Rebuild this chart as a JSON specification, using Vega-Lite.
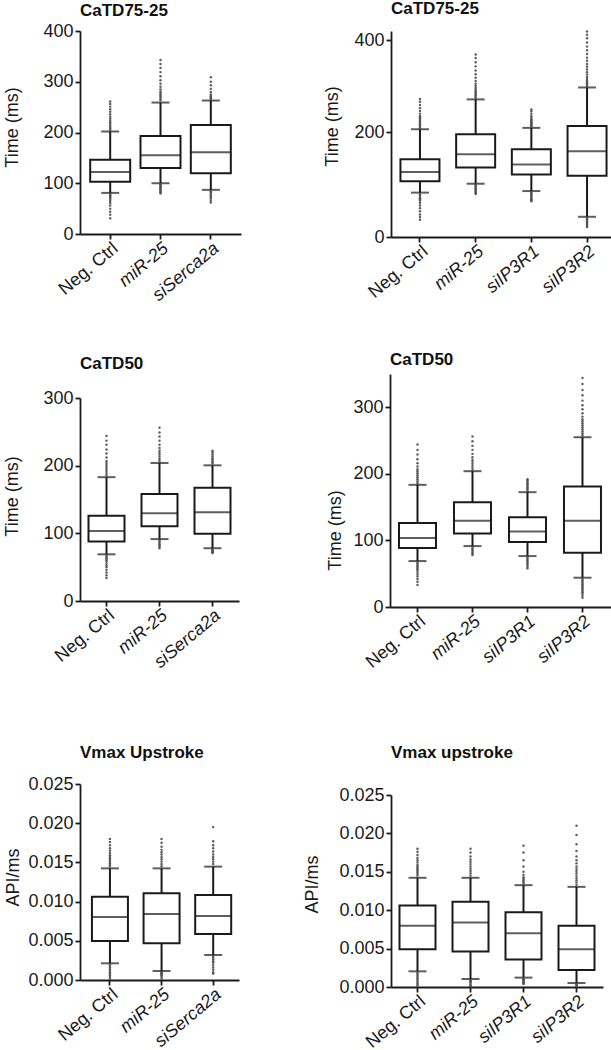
{
  "$schema": "https://vega.github.io/schema/vega-lite/v6.json",
  "padding": {"left": 3, "top": 0, "right": 0, "bottom": 0},
  "background": "#ffffff",
  "config": {
    "view": {"stroke": null},
    "title": {"font": "Liberation Sans", "fontSize": 17, "fontWeight": "bold", "anchor": "start", "color": "#111111", "frame": "group"},
    "axis": {"domainColor": "#1a1a1a", "domainWidth": 1.8, "tickColor": "#1a1a1a", "tickWidth": 1.8, "tickSize": 5, "labelFont": "Liberation Sans", "labelFontSize": 18, "labelColor": "#1a1a1a", "titleFont": "Liberation Sans", "titleFontSize": 18, "titleFontWeight": "normal", "titleColor": "#1a1a1a", "grid": false, "labelPadding": 2, "labelOverlap": false},
    "axisX": {"labelAngle": -40, "labelPadding": 0}
  },
  "datasets": {
    "tl_s": [
      {"g": "Neg. Ctrl", "lo": 81, "q1": 103, "med": 122, "q3": 146.5, "hi": 202},
      {"g": "miR-25", "lo": 100, "q1": 130, "med": 155, "q3": 193, "hi": 259},
      {"g": "siSerca2a", "lo": 87, "q1": 119.5, "med": 161, "q3": 215, "hi": 263}
    ],
    "tl_o": [
      {"g": "Neg. Ctrl", "v": 205}, {"g": "Neg. Ctrl", "v": 208}, {"g": "Neg. Ctrl", "v": 211}, {"g": "Neg. Ctrl", "v": 214}, {"g": "Neg. Ctrl", "v": 217}, {"g": "Neg. Ctrl", "v": 220}, {"g": "Neg. Ctrl", "v": 223}, {"g": "Neg. Ctrl", "v": 227}, {"g": "Neg. Ctrl", "v": 231}, {"g": "Neg. Ctrl", "v": 236}, {"g": "Neg. Ctrl", "v": 241}, {"g": "Neg. Ctrl", "v": 246}, {"g": "Neg. Ctrl", "v": 251}, {"g": "Neg. Ctrl", "v": 256}, {"g": "Neg. Ctrl", "v": 261},
      {"g": "Neg. Ctrl", "v": 79}, {"g": "Neg. Ctrl", "v": 77}, {"g": "Neg. Ctrl", "v": 75}, {"g": "Neg. Ctrl", "v": 73}, {"g": "Neg. Ctrl", "v": 71}, {"g": "Neg. Ctrl", "v": 68}, {"g": "Neg. Ctrl", "v": 65}, {"g": "Neg. Ctrl", "v": 61}, {"g": "Neg. Ctrl", "v": 56}, {"g": "Neg. Ctrl", "v": 50}, {"g": "Neg. Ctrl", "v": 44}, {"g": "Neg. Ctrl", "v": 38}, {"g": "Neg. Ctrl", "v": 31},
      {"g": "miR-25", "v": 263}, {"g": "miR-25", "v": 266}, {"g": "miR-25", "v": 269}, {"g": "miR-25", "v": 272}, {"g": "miR-25", "v": 275}, {"g": "miR-25", "v": 278}, {"g": "miR-25", "v": 281}, {"g": "miR-25", "v": 285}, {"g": "miR-25", "v": 290}, {"g": "miR-25", "v": 296}, {"g": "miR-25", "v": 303}, {"g": "miR-25", "v": 311}, {"g": "miR-25", "v": 319}, {"g": "miR-25", "v": 327}, {"g": "miR-25", "v": 335}, {"g": "miR-25", "v": 343},
      {"g": "miR-25", "v": 98}, {"g": "miR-25", "v": 96}, {"g": "miR-25", "v": 94}, {"g": "miR-25", "v": 92}, {"g": "miR-25", "v": 90}, {"g": "miR-25", "v": 88}, {"g": "miR-25", "v": 86}, {"g": "miR-25", "v": 84}, {"g": "miR-25", "v": 82}, {"g": "miR-25", "v": 80},
      {"g": "siSerca2a", "v": 266}, {"g": "siSerca2a", "v": 268}, {"g": "siSerca2a", "v": 270}, {"g": "siSerca2a", "v": 272}, {"g": "siSerca2a", "v": 275}, {"g": "siSerca2a", "v": 280}, {"g": "siSerca2a", "v": 286}, {"g": "siSerca2a", "v": 293}, {"g": "siSerca2a", "v": 300}, {"g": "siSerca2a", "v": 309},
      {"g": "siSerca2a", "v": 84}, {"g": "siSerca2a", "v": 82}, {"g": "siSerca2a", "v": 79}, {"g": "siSerca2a", "v": 76}, {"g": "siSerca2a", "v": 73}, {"g": "siSerca2a", "v": 70}, {"g": "siSerca2a", "v": 66}, {"g": "siSerca2a", "v": 62}
    ],
    "tr_s": [
      {"g": "Neg. Ctrl", "lo": 84.5, "q1": 106, "med": 124, "q3": 148, "hi": 206},
      {"g": "miR-25", "lo": 101.5, "q1": 132.5, "med": 157.5, "q3": 195.5, "hi": 271},
      {"g": "siIP3R1", "lo": 87.5, "q1": 119, "med": 138, "q3": 167, "hi": 209},
      {"g": "siIP3R2", "lo": 38.5, "q1": 116.5, "med": 163.5, "q3": 213, "hi": 297}
    ],
    "tr_o": [
      {"g": "Neg. Ctrl", "v": 208}, {"g": "Neg. Ctrl", "v": 211}, {"g": "Neg. Ctrl", "v": 214}, {"g": "Neg. Ctrl", "v": 217}, {"g": "Neg. Ctrl", "v": 220}, {"g": "Neg. Ctrl", "v": 223}, {"g": "Neg. Ctrl", "v": 226}, {"g": "Neg. Ctrl", "v": 229}, {"g": "Neg. Ctrl", "v": 232}, {"g": "Neg. Ctrl", "v": 235}, {"g": "Neg. Ctrl", "v": 240}, {"g": "Neg. Ctrl", "v": 246}, {"g": "Neg. Ctrl", "v": 252}, {"g": "Neg. Ctrl", "v": 259}, {"g": "Neg. Ctrl", "v": 266}, {"g": "Neg. Ctrl", "v": 272},
      {"g": "Neg. Ctrl", "v": 82}, {"g": "Neg. Ctrl", "v": 80}, {"g": "Neg. Ctrl", "v": 78}, {"g": "Neg. Ctrl", "v": 76}, {"g": "Neg. Ctrl", "v": 74}, {"g": "Neg. Ctrl", "v": 72}, {"g": "Neg. Ctrl", "v": 69}, {"g": "Neg. Ctrl", "v": 65}, {"g": "Neg. Ctrl", "v": 60}, {"g": "Neg. Ctrl", "v": 55}, {"g": "Neg. Ctrl", "v": 49}, {"g": "Neg. Ctrl", "v": 43}, {"g": "Neg. Ctrl", "v": 38}, {"g": "Neg. Ctrl", "v": 33},
      {"g": "miR-25", "v": 274}, {"g": "miR-25", "v": 277}, {"g": "miR-25", "v": 280}, {"g": "miR-25", "v": 283}, {"g": "miR-25", "v": 286}, {"g": "miR-25", "v": 289}, {"g": "miR-25", "v": 292}, {"g": "miR-25", "v": 296}, {"g": "miR-25", "v": 300}, {"g": "miR-25", "v": 305}, {"g": "miR-25", "v": 311}, {"g": "miR-25", "v": 318}, {"g": "miR-25", "v": 326}, {"g": "miR-25", "v": 334}, {"g": "miR-25", "v": 343}, {"g": "miR-25", "v": 352}, {"g": "miR-25", "v": 361}, {"g": "miR-25", "v": 369},
      {"g": "miR-25", "v": 100}, {"g": "miR-25", "v": 98}, {"g": "miR-25", "v": 96}, {"g": "miR-25", "v": 94}, {"g": "miR-25", "v": 92}, {"g": "miR-25", "v": 90}, {"g": "miR-25", "v": 88}, {"g": "miR-25", "v": 86}, {"g": "miR-25", "v": 84}, {"g": "miR-25", "v": 82},
      {"g": "siIP3R1", "v": 211}, {"g": "siIP3R1", "v": 213}, {"g": "siIP3R1", "v": 215}, {"g": "siIP3R1", "v": 217}, {"g": "siIP3R1", "v": 219}, {"g": "siIP3R1", "v": 221}, {"g": "siIP3R1", "v": 223}, {"g": "siIP3R1", "v": 225}, {"g": "siIP3R1", "v": 228}, {"g": "siIP3R1", "v": 231}, {"g": "siIP3R1", "v": 235}, {"g": "siIP3R1", "v": 240}, {"g": "siIP3R1", "v": 245}, {"g": "siIP3R1", "v": 249},
      {"g": "siIP3R1", "v": 86}, {"g": "siIP3R1", "v": 84}, {"g": "siIP3R1", "v": 82}, {"g": "siIP3R1", "v": 80}, {"g": "siIP3R1", "v": 78}, {"g": "siIP3R1", "v": 76}, {"g": "siIP3R1", "v": 74}, {"g": "siIP3R1", "v": 72}, {"g": "siIP3R1", "v": 70}, {"g": "siIP3R1", "v": 68},
      {"g": "siIP3R2", "v": 300}, {"g": "siIP3R2", "v": 303}, {"g": "siIP3R2", "v": 306}, {"g": "siIP3R2", "v": 309}, {"g": "siIP3R2", "v": 312}, {"g": "siIP3R2", "v": 316}, {"g": "siIP3R2", "v": 320}, {"g": "siIP3R2", "v": 325}, {"g": "siIP3R2", "v": 330}, {"g": "siIP3R2", "v": 336}, {"g": "siIP3R2", "v": 342}, {"g": "siIP3R2", "v": 348}, {"g": "siIP3R2", "v": 355}, {"g": "siIP3R2", "v": 362}, {"g": "siIP3R2", "v": 370}, {"g": "siIP3R2", "v": 378}, {"g": "siIP3R2", "v": 386}, {"g": "siIP3R2", "v": 395}, {"g": "siIP3R2", "v": 404}, {"g": "siIP3R2", "v": 412}, {"g": "siIP3R2", "v": 419},
      {"g": "siIP3R2", "v": 37}, {"g": "siIP3R2", "v": 35}, {"g": "siIP3R2", "v": 33}, {"g": "siIP3R2", "v": 31}, {"g": "siIP3R2", "v": 29}, {"g": "siIP3R2", "v": 27}, {"g": "siIP3R2", "v": 25}, {"g": "siIP3R2", "v": 23}, {"g": "siIP3R2", "v": 21}, {"g": "siIP3R2", "v": 19}
    ],
    "ml_s": [
      {"g": "Neg. Ctrl", "lo": 69, "q1": 88, "med": 103.5, "q3": 126, "hi": 183},
      {"g": "miR-25", "lo": 91.5, "q1": 110.5, "med": 129.5, "q3": 158, "hi": 204},
      {"g": "siSerca2a", "lo": 78, "q1": 99.5, "med": 131, "q3": 167.5, "hi": 200.5}
    ],
    "ml_o": [
      {"g": "Neg. Ctrl", "v": 186}, {"g": "Neg. Ctrl", "v": 189}, {"g": "Neg. Ctrl", "v": 192}, {"g": "Neg. Ctrl", "v": 195}, {"g": "Neg. Ctrl", "v": 198}, {"g": "Neg. Ctrl", "v": 201}, {"g": "Neg. Ctrl", "v": 204}, {"g": "Neg. Ctrl", "v": 207}, {"g": "Neg. Ctrl", "v": 212}, {"g": "Neg. Ctrl", "v": 218}, {"g": "Neg. Ctrl", "v": 224}, {"g": "Neg. Ctrl", "v": 231}, {"g": "Neg. Ctrl", "v": 237}, {"g": "Neg. Ctrl", "v": 244},
      {"g": "Neg. Ctrl", "v": 67}, {"g": "Neg. Ctrl", "v": 65}, {"g": "Neg. Ctrl", "v": 63}, {"g": "Neg. Ctrl", "v": 61}, {"g": "Neg. Ctrl", "v": 59}, {"g": "Neg. Ctrl", "v": 56}, {"g": "Neg. Ctrl", "v": 53}, {"g": "Neg. Ctrl", "v": 50}, {"g": "Neg. Ctrl", "v": 46}, {"g": "Neg. Ctrl", "v": 42}, {"g": "Neg. Ctrl", "v": 38}, {"g": "Neg. Ctrl", "v": 34},
      {"g": "miR-25", "v": 207}, {"g": "miR-25", "v": 210}, {"g": "miR-25", "v": 213}, {"g": "miR-25", "v": 216}, {"g": "miR-25", "v": 219}, {"g": "miR-25", "v": 222}, {"g": "miR-25", "v": 226}, {"g": "miR-25", "v": 231}, {"g": "miR-25", "v": 237}, {"g": "miR-25", "v": 243}, {"g": "miR-25", "v": 249}, {"g": "miR-25", "v": 256},
      {"g": "miR-25", "v": 90}, {"g": "miR-25", "v": 88}, {"g": "miR-25", "v": 86}, {"g": "miR-25", "v": 84}, {"g": "miR-25", "v": 82}, {"g": "miR-25", "v": 80}, {"g": "miR-25", "v": 78},
      {"g": "siSerca2a", "v": 203}, {"g": "siSerca2a", "v": 205}, {"g": "siSerca2a", "v": 207}, {"g": "siSerca2a", "v": 209}, {"g": "siSerca2a", "v": 211}, {"g": "siSerca2a", "v": 214}, {"g": "siSerca2a", "v": 217}, {"g": "siSerca2a", "v": 220}, {"g": "siSerca2a", "v": 222},
      {"g": "siSerca2a", "v": 76}, {"g": "siSerca2a", "v": 75}, {"g": "siSerca2a", "v": 74}, {"g": "siSerca2a", "v": 73}, {"g": "siSerca2a", "v": 72}, {"g": "siSerca2a", "v": 71}
    ],
    "mr_s": [
      {"g": "Neg. Ctrl", "lo": 69, "q1": 88.5, "med": 103.5, "q3": 126, "hi": 183.5},
      {"g": "miR-25", "lo": 91.5, "q1": 110.5, "med": 129.5, "q3": 157.5, "hi": 204},
      {"g": "siIP3R1", "lo": 76.5, "q1": 97.5, "med": 113.5, "q3": 135, "hi": 172.5},
      {"g": "siIP3R2", "lo": 44, "q1": 81.5, "med": 129.5, "q3": 181, "hi": 255}
    ],
    "mr_o": [
      {"g": "Neg. Ctrl", "v": 186}, {"g": "Neg. Ctrl", "v": 189}, {"g": "Neg. Ctrl", "v": 192}, {"g": "Neg. Ctrl", "v": 195}, {"g": "Neg. Ctrl", "v": 198}, {"g": "Neg. Ctrl", "v": 201}, {"g": "Neg. Ctrl", "v": 204}, {"g": "Neg. Ctrl", "v": 207}, {"g": "Neg. Ctrl", "v": 211}, {"g": "Neg. Ctrl", "v": 216}, {"g": "Neg. Ctrl", "v": 222}, {"g": "Neg. Ctrl", "v": 229}, {"g": "Neg. Ctrl", "v": 236}, {"g": "Neg. Ctrl", "v": 244},
      {"g": "Neg. Ctrl", "v": 67}, {"g": "Neg. Ctrl", "v": 65}, {"g": "Neg. Ctrl", "v": 63}, {"g": "Neg. Ctrl", "v": 61}, {"g": "Neg. Ctrl", "v": 59}, {"g": "Neg. Ctrl", "v": 57}, {"g": "Neg. Ctrl", "v": 55}, {"g": "Neg. Ctrl", "v": 52}, {"g": "Neg. Ctrl", "v": 49}, {"g": "Neg. Ctrl", "v": 46}, {"g": "Neg. Ctrl", "v": 42}, {"g": "Neg. Ctrl", "v": 38}, {"g": "Neg. Ctrl", "v": 33},
      {"g": "miR-25", "v": 206}, {"g": "miR-25", "v": 209}, {"g": "miR-25", "v": 212}, {"g": "miR-25", "v": 215}, {"g": "miR-25", "v": 218}, {"g": "miR-25", "v": 221}, {"g": "miR-25", "v": 225}, {"g": "miR-25", "v": 230}, {"g": "miR-25", "v": 236}, {"g": "miR-25", "v": 242}, {"g": "miR-25", "v": 249}, {"g": "miR-25", "v": 256},
      {"g": "miR-25", "v": 90}, {"g": "miR-25", "v": 88}, {"g": "miR-25", "v": 86}, {"g": "miR-25", "v": 84}, {"g": "miR-25", "v": 82}, {"g": "miR-25", "v": 80}, {"g": "miR-25", "v": 78},
      {"g": "siIP3R1", "v": 174}, {"g": "siIP3R1", "v": 176}, {"g": "siIP3R1", "v": 178}, {"g": "siIP3R1", "v": 180}, {"g": "siIP3R1", "v": 182}, {"g": "siIP3R1", "v": 184}, {"g": "siIP3R1", "v": 186}, {"g": "siIP3R1", "v": 188}, {"g": "siIP3R1", "v": 190}, {"g": "siIP3R1", "v": 192},
      {"g": "siIP3R1", "v": 75}, {"g": "siIP3R1", "v": 73}, {"g": "siIP3R1", "v": 71}, {"g": "siIP3R1", "v": 69}, {"g": "siIP3R1", "v": 67}, {"g": "siIP3R1", "v": 65}, {"g": "siIP3R1", "v": 63}, {"g": "siIP3R1", "v": 60}, {"g": "siIP3R1", "v": 58},
      {"g": "siIP3R2", "v": 258}, {"g": "siIP3R2", "v": 261}, {"g": "siIP3R2", "v": 264}, {"g": "siIP3R2", "v": 267}, {"g": "siIP3R2", "v": 270}, {"g": "siIP3R2", "v": 273}, {"g": "siIP3R2", "v": 276}, {"g": "siIP3R2", "v": 279}, {"g": "siIP3R2", "v": 282}, {"g": "siIP3R2", "v": 286}, {"g": "siIP3R2", "v": 291}, {"g": "siIP3R2", "v": 297}, {"g": "siIP3R2", "v": 303}, {"g": "siIP3R2", "v": 310}, {"g": "siIP3R2", "v": 318}, {"g": "siIP3R2", "v": 326}, {"g": "siIP3R2", "v": 335}, {"g": "siIP3R2", "v": 344},
      {"g": "siIP3R2", "v": 42}, {"g": "siIP3R2", "v": 40}, {"g": "siIP3R2", "v": 38}, {"g": "siIP3R2", "v": 36}, {"g": "siIP3R2", "v": 34}, {"g": "siIP3R2", "v": 32}, {"g": "siIP3R2", "v": 30}, {"g": "siIP3R2", "v": 28}, {"g": "siIP3R2", "v": 26}, {"g": "siIP3R2", "v": 24}, {"g": "siIP3R2", "v": 22}, {"g": "siIP3R2", "v": 20}, {"g": "siIP3R2", "v": 17}, {"g": "siIP3R2", "v": 14}
    ],
    "bl_s": [
      {"g": "Neg. Ctrl", "lo": 0.00213, "q1": 0.00497, "med": 0.00804, "q3": 0.01063, "hi": 0.01424},
      {"g": "miR-25", "lo": 0.00115, "q1": 0.00468, "med": 0.00842, "q3": 0.01105, "hi": 0.01424},
      {"g": "siSerca2a", "lo": 0.00319, "q1": 0.00587, "med": 0.00816, "q3": 0.01084, "hi": 0.01446}
    ],
    "bl_o": [
      {"g": "Neg. Ctrl", "v": 0.0145}, {"g": "Neg. Ctrl", "v": 0.0147}, {"g": "Neg. Ctrl", "v": 0.0149}, {"g": "Neg. Ctrl", "v": 0.0151}, {"g": "Neg. Ctrl", "v": 0.0153}, {"g": "Neg. Ctrl", "v": 0.0155}, {"g": "Neg. Ctrl", "v": 0.0157}, {"g": "Neg. Ctrl", "v": 0.0159}, {"g": "Neg. Ctrl", "v": 0.0162}, {"g": "Neg. Ctrl", "v": 0.0165}, {"g": "Neg. Ctrl", "v": 0.0168}, {"g": "Neg. Ctrl", "v": 0.0172}, {"g": "Neg. Ctrl", "v": 0.0176}, {"g": "Neg. Ctrl", "v": 0.018},
      {"g": "Neg. Ctrl", "v": 0.002}, {"g": "Neg. Ctrl", "v": 0.0018}, {"g": "Neg. Ctrl", "v": 0.0016}, {"g": "Neg. Ctrl", "v": 0.0014}, {"g": "Neg. Ctrl", "v": 0.0012}, {"g": "Neg. Ctrl", "v": 0.001}, {"g": "Neg. Ctrl", "v": 0.0008}, {"g": "Neg. Ctrl", "v": 0.0006}, {"g": "Neg. Ctrl", "v": 0.0004}, {"g": "Neg. Ctrl", "v": 0.0002},
      {"g": "miR-25", "v": 0.0145}, {"g": "miR-25", "v": 0.0148}, {"g": "miR-25", "v": 0.0151}, {"g": "miR-25", "v": 0.0154}, {"g": "miR-25", "v": 0.0157}, {"g": "miR-25", "v": 0.016}, {"g": "miR-25", "v": 0.0163}, {"g": "miR-25", "v": 0.0166}, {"g": "miR-25", "v": 0.017}, {"g": "miR-25", "v": 0.0175}, {"g": "miR-25", "v": 0.018},
      {"g": "miR-25", "v": 0.001}, {"g": "miR-25", "v": 0.0009}, {"g": "miR-25", "v": 0.0008}, {"g": "miR-25", "v": 0.0007}, {"g": "miR-25", "v": 0.0006}, {"g": "miR-25", "v": 0.0004}, {"g": "miR-25", "v": 0.0002},
      {"g": "siSerca2a", "v": 0.0148}, {"g": "siSerca2a", "v": 0.0151}, {"g": "siSerca2a", "v": 0.0154}, {"g": "siSerca2a", "v": 0.0157}, {"g": "siSerca2a", "v": 0.016}, {"g": "siSerca2a", "v": 0.0164}, {"g": "siSerca2a", "v": 0.0168}, {"g": "siSerca2a", "v": 0.0172}, {"g": "siSerca2a", "v": 0.0177}, {"g": "siSerca2a", "v": 0.0195},
      {"g": "siSerca2a", "v": 0.003}, {"g": "siSerca2a", "v": 0.0028}, {"g": "siSerca2a", "v": 0.0026}, {"g": "siSerca2a", "v": 0.0024}, {"g": "siSerca2a", "v": 0.0022}, {"g": "siSerca2a", "v": 0.0019}, {"g": "siSerca2a", "v": 0.0016}, {"g": "siSerca2a", "v": 0.0013}, {"g": "siSerca2a", "v": 0.001}, {"g": "siSerca2a", "v": 0.0008}
    ],
    "br_s": [
      {"g": "Neg. Ctrl", "lo": 0.00204, "q1": 0.00491, "med": 0.00796, "q3": 0.01061, "hi": 0.01422},
      {"g": "miR-25", "lo": 0.00104, "q1": 0.00461, "med": 0.00839, "q3": 0.01109, "hi": 0.01422},
      {"g": "siIP3R1", "lo": 0.00122, "q1": 0.00357, "med": 0.007, "q3": 0.00974, "hi": 0.01326},
      {"g": "siIP3R2", "lo": 0.00052, "q1": 0.00222, "med": 0.00491, "q3": 0.00796, "hi": 0.01304}
    ],
    "br_o": [
      {"g": "Neg. Ctrl", "v": 0.0145}, {"g": "Neg. Ctrl", "v": 0.0147}, {"g": "Neg. Ctrl", "v": 0.0149}, {"g": "Neg. Ctrl", "v": 0.0151}, {"g": "Neg. Ctrl", "v": 0.0153}, {"g": "Neg. Ctrl", "v": 0.0155}, {"g": "Neg. Ctrl", "v": 0.0157}, {"g": "Neg. Ctrl", "v": 0.0159}, {"g": "Neg. Ctrl", "v": 0.0162}, {"g": "Neg. Ctrl", "v": 0.0165}, {"g": "Neg. Ctrl", "v": 0.0168}, {"g": "Neg. Ctrl", "v": 0.0172}, {"g": "Neg. Ctrl", "v": 0.0176}, {"g": "Neg. Ctrl", "v": 0.018},
      {"g": "Neg. Ctrl", "v": 0.0019}, {"g": "Neg. Ctrl", "v": 0.0017}, {"g": "Neg. Ctrl", "v": 0.0015}, {"g": "Neg. Ctrl", "v": 0.0013}, {"g": "Neg. Ctrl", "v": 0.0011}, {"g": "Neg. Ctrl", "v": 0.0009}, {"g": "Neg. Ctrl", "v": 0.0007}, {"g": "Neg. Ctrl", "v": 0.0005}, {"g": "Neg. Ctrl", "v": 0.0003}, {"g": "Neg. Ctrl", "v": 0.0001},
      {"g": "miR-25", "v": 0.0145}, {"g": "miR-25", "v": 0.0148}, {"g": "miR-25", "v": 0.0151}, {"g": "miR-25", "v": 0.0154}, {"g": "miR-25", "v": 0.0157}, {"g": "miR-25", "v": 0.016}, {"g": "miR-25", "v": 0.0163}, {"g": "miR-25", "v": 0.0166}, {"g": "miR-25", "v": 0.017}, {"g": "miR-25", "v": 0.0175}, {"g": "miR-25", "v": 0.018},
      {"g": "miR-25", "v": 0.0009}, {"g": "miR-25", "v": 0.0008}, {"g": "miR-25", "v": 0.0007}, {"g": "miR-25", "v": 0.0006}, {"g": "miR-25", "v": 0.0004}, {"g": "miR-25", "v": 0.0002}, {"g": "miR-25", "v": 0.0001},
      {"g": "siIP3R1", "v": 0.0135}, {"g": "siIP3R1", "v": 0.0137}, {"g": "siIP3R1", "v": 0.0139}, {"g": "siIP3R1", "v": 0.0141}, {"g": "siIP3R1", "v": 0.0143}, {"g": "siIP3R1", "v": 0.0146}, {"g": "siIP3R1", "v": 0.015}, {"g": "siIP3R1", "v": 0.0157}, {"g": "siIP3R1", "v": 0.0165}, {"g": "siIP3R1", "v": 0.0175}, {"g": "siIP3R1", "v": 0.0184},
      {"g": "siIP3R1", "v": 0.0011}, {"g": "siIP3R1", "v": 0.001}, {"g": "siIP3R1", "v": 0.0009}, {"g": "siIP3R1", "v": 0.0008}, {"g": "siIP3R1", "v": 0.0007}, {"g": "siIP3R1", "v": 0.0006}, {"g": "siIP3R1", "v": 0.0005}, {"g": "siIP3R1", "v": 0.0004},
      {"g": "siIP3R2", "v": 0.0133}, {"g": "siIP3R2", "v": 0.0136}, {"g": "siIP3R2", "v": 0.0139}, {"g": "siIP3R2", "v": 0.0142}, {"g": "siIP3R2", "v": 0.0145}, {"g": "siIP3R2", "v": 0.0148}, {"g": "siIP3R2", "v": 0.0151}, {"g": "siIP3R2", "v": 0.0154}, {"g": "siIP3R2", "v": 0.0157}, {"g": "siIP3R2", "v": 0.0161}, {"g": "siIP3R2", "v": 0.0165}, {"g": "siIP3R2", "v": 0.017}, {"g": "siIP3R2", "v": 0.0177}, {"g": "siIP3R2", "v": 0.0186}, {"g": "siIP3R2", "v": 0.0198}, {"g": "siIP3R2", "v": 0.021},
      {"g": "siIP3R2", "v": 0.0004}, {"g": "siIP3R2", "v": 0.0003}, {"g": "siIP3R2", "v": 0.0002}, {"g": "siIP3R2", "v": 0.0001}
    ]
  },
  "vconcat": [
    {
      "vconcat": [
        {
          "hconcat": [
            {
              "width": 161, "height": 203,
              "title": {"text": "CaTD75-25", "offset": 2},
              "encoding": {"x": {"field": "g", "type": "nominal", "title": null, "scale": {"type": "band", "domain": ["Neg. Ctrl", "miR-25", "siSerca2a"], "paddingInner": 0, "paddingOuter": 0.1}, "axis": {"labelFontStyle": {"condition": {"test": "datum.value == 'Neg. Ctrl'", "value": "normal"}, "value": "italic"}}}},
              "layer": [
                {"data": {"name": "tl_s"}, "mark": {"type": "rule", "strokeWidth": 2, "color": "#1a1a1a"}, "encoding": {"y": {"field": "lo", "type": "quantitative", "title": "Time (ms)", "scale": {"domain": [0, 400], "nice": false, "zero": false}, "axis": {"values": [0, 100, 200, 300, 400], "tickCount": 20, "titleX": -59, "titleY": 96, "labelOverlap": false}}, "y2": {"field": "hi"}}},
                {"data": {"name": "tl_s"}, "mark": {"type": "bar", "size": 40, "fill": "#ffffff", "stroke": "#1a1a1a", "strokeWidth": 2}, "encoding": {"y": {"field": "q1", "type": "quantitative", "title": "Time (ms)"}, "y2": {"field": "q3"}}},
                {"data": {"name": "tl_s"}, "mark": {"type": "tick", "size": 40, "thickness": 2, "color": "#1a1a1a"}, "encoding": {"y": {"field": "med", "type": "quantitative", "title": "Time (ms)"}}},
                {"data": {"name": "tl_s"}, "mark": {"type": "tick", "size": 18, "thickness": 2, "color": "#1a1a1a"}, "encoding": {"y": {"field": "lo", "type": "quantitative", "title": "Time (ms)"}}},
                {"data": {"name": "tl_s"}, "mark": {"type": "tick", "size": 18, "thickness": 2, "color": "#1a1a1a"}, "encoding": {"y": {"field": "hi", "type": "quantitative", "title": "Time (ms)"}}},
                {"data": {"name": "tl_o"}, "mark": {"type": "point", "filled": true, "size": 6, "color": "#4d4d4d", "opacity": 0.9}, "encoding": {"y": {"field": "v", "type": "quantitative", "title": "Time (ms)"}}}
              ]
            },
            {
              "width": 225, "height": 206,
              "title": {"text": "CaTD75-25", "offset": 12},
              "encoding": {"x": {"field": "g", "type": "nominal", "title": null, "scale": {"type": "band", "domain": ["Neg. Ctrl", "miR-25", "siIP3R1", "siIP3R2"], "paddingInner": 0, "paddingOuter": 0.02}, "axis": {"labelFontStyle": {"condition": {"test": "datum.value == 'Neg. Ctrl'", "value": "normal"}, "value": "italic"}}}},
              "layer": [
                {"data": {"name": "tr_s"}, "mark": {"type": "rule", "strokeWidth": 2, "color": "#1a1a1a"}, "encoding": {"y": {"field": "lo", "type": "quantitative", "title": "Time (ms)", "scale": {"domain": [0, 200, 420], "range": [206, 101, 0], "nice": false, "zero": false}, "axis": {"values": [0, 200, 400], "tickCount": 20, "titleX": -50, "titleY": 95, "labelOverlap": false}}, "y2": {"field": "hi"}}},
                {"data": {"name": "tr_s"}, "mark": {"type": "bar", "size": 39, "fill": "#ffffff", "stroke": "#1a1a1a", "strokeWidth": 2}, "encoding": {"y": {"field": "q1", "type": "quantitative", "title": "Time (ms)"}, "y2": {"field": "q3"}}},
                {"data": {"name": "tr_s"}, "mark": {"type": "tick", "size": 39, "thickness": 2, "color": "#1a1a1a"}, "encoding": {"y": {"field": "med", "type": "quantitative", "title": "Time (ms)"}}},
                {"data": {"name": "tr_s"}, "mark": {"type": "tick", "size": 18, "thickness": 2, "color": "#1a1a1a"}, "encoding": {"y": {"field": "lo", "type": "quantitative", "title": "Time (ms)"}}},
                {"data": {"name": "tr_s"}, "mark": {"type": "tick", "size": 18, "thickness": 2, "color": "#1a1a1a"}, "encoding": {"y": {"field": "hi", "type": "quantitative", "title": "Time (ms)"}}},
                {"data": {"name": "tr_o"}, "mark": {"type": "point", "filled": true, "size": 6, "color": "#4d4d4d", "opacity": 0.9}, "encoding": {"y": {"field": "v", "type": "quantitative", "title": "Time (ms)"}}}
              ]
            }
          ],
          "spacing": 82
        },
        {
          "hconcat": [
            {
              "width": 159, "height": 227,
              "title": {"text": "CaTD50", "offset": 1},
              "encoding": {"x": {"field": "g", "type": "nominal", "title": null, "scale": {"type": "band", "domain": ["Neg. Ctrl", "miR-25", "siSerca2a"], "paddingInner": 0, "paddingOuter": 0}, "axis": {"labelFontStyle": {"condition": {"test": "datum.value == 'Neg. Ctrl'", "value": "normal"}, "value": "italic"}}}},
              "layer": [
                {"data": {"name": "ml_s"}, "mark": {"type": "rule", "strokeWidth": 2, "color": "#1a1a1a"}, "encoding": {"y": {"field": "lo", "type": "quantitative", "title": "Time (ms)", "scale": {"domain": [0, 300], "range": [227, 24], "nice": false, "zero": false}, "axis": {"values": [0, 100, 200, 300], "tickCount": 20, "titleX": -59, "titleY": 122, "labelOverlap": false}}, "y2": {"field": "hi"}}},
                {"data": {"name": "ml_s"}, "mark": {"type": "bar", "size": 36, "fill": "#ffffff", "stroke": "#1a1a1a", "strokeWidth": 2}, "encoding": {"y": {"field": "q1", "type": "quantitative", "title": "Time (ms)"}, "y2": {"field": "q3"}}},
                {"data": {"name": "ml_s"}, "mark": {"type": "tick", "size": 36, "thickness": 2, "color": "#1a1a1a"}, "encoding": {"y": {"field": "med", "type": "quantitative", "title": "Time (ms)"}}},
                {"data": {"name": "ml_s"}, "mark": {"type": "tick", "size": 18, "thickness": 2, "color": "#1a1a1a"}, "encoding": {"y": {"field": "lo", "type": "quantitative", "title": "Time (ms)"}}},
                {"data": {"name": "ml_s"}, "mark": {"type": "tick", "size": 18, "thickness": 2, "color": "#1a1a1a"}, "encoding": {"y": {"field": "hi", "type": "quantitative", "title": "Time (ms)"}}},
                {"data": {"name": "ml_o"}, "mark": {"type": "point", "filled": true, "size": 6, "color": "#4d4d4d", "opacity": 0.9}, "encoding": {"y": {"field": "v", "type": "quantitative", "title": "Time (ms)"}}}
              ]
            },
            {
              "width": 228, "height": 233,
              "title": {"text": "CaTD50", "offset": 5},
              "encoding": {"x": {"field": "g", "type": "nominal", "title": null, "scale": {"type": "band", "domain": ["Neg. Ctrl", "miR-25", "siIP3R1", "siIP3R2"], "paddingInner": 0, "paddingOuter": 0.073, "align": 0}, "axis": {"labelFontStyle": {"condition": {"test": "datum.value == 'Neg. Ctrl'", "value": "normal"}, "value": "italic"}}}},
              "layer": [
                {"data": {"name": "mr_s"}, "mark": {"type": "rule", "strokeWidth": 2, "color": "#1a1a1a"}, "encoding": {"y": {"field": "lo", "type": "quantitative", "title": "Time (ms)", "scale": {"domain": [0, 350], "nice": false, "zero": false}, "axis": {"values": [0, 100, 200, 300], "tickCount": 20, "titleX": -46, "titleY": 156, "labelOverlap": false}}, "y2": {"field": "hi"}}},
                {"data": {"name": "mr_s"}, "mark": {"type": "bar", "size": 37, "fill": "#ffffff", "stroke": "#1a1a1a", "strokeWidth": 2}, "encoding": {"y": {"field": "q1", "type": "quantitative", "title": "Time (ms)"}, "y2": {"field": "q3"}}},
                {"data": {"name": "mr_s"}, "mark": {"type": "tick", "size": 37, "thickness": 2, "color": "#1a1a1a"}, "encoding": {"y": {"field": "med", "type": "quantitative", "title": "Time (ms)"}}},
                {"data": {"name": "mr_s"}, "mark": {"type": "tick", "size": 18, "thickness": 2, "color": "#1a1a1a"}, "encoding": {"y": {"field": "lo", "type": "quantitative", "title": "Time (ms)"}}},
                {"data": {"name": "mr_s"}, "mark": {"type": "tick", "size": 18, "thickness": 2, "color": "#1a1a1a"}, "encoding": {"y": {"field": "hi", "type": "quantitative", "title": "Time (ms)"}}},
                {"data": {"name": "mr_o"}, "mark": {"type": "point", "filled": true, "size": 6, "color": "#4d4d4d", "opacity": 0.9}, "encoding": {"y": {"field": "v", "type": "quantitative", "title": "Time (ms)"}}}
              ]
            }
          ],
          "spacing": 87
        }
      ],
      "spacing": 46
    },
    {
      "hconcat": [
        {
          "width": 159, "height": 196,
          "title": {"text": "Vmax Upstroke", "offset": 13},
          "encoding": {"x": {"field": "g", "type": "nominal", "title": null, "scale": {"type": "band", "domain": ["Neg. Ctrl", "miR-25", "siSerca2a"], "paddingInner": 0, "paddingOuter": 0.04, "align": 1}, "axis": {"labelFontStyle": {"condition": {"test": "datum.value == 'Neg. Ctrl'", "value": "normal"}, "value": "italic"}}}},
          "layer": [
            {"data": {"name": "bl_s"}, "mark": {"type": "rule", "strokeWidth": 2, "color": "#1a1a1a"}, "encoding": {"y": {"field": "lo", "type": "quantitative", "title": "API/ms", "scale": {"domain": [0, 0.025], "range": [196, 0], "nice": false, "zero": false}, "axis": {"values": [0, 0.005, 0.01, 0.015, 0.02, 0.025], "tickCount": 20, "format": ".3f", "titleX": -58, "titleY": 93, "labelOverlap": false}}, "y2": {"field": "hi"}}},
            {"data": {"name": "bl_s"}, "mark": {"type": "bar", "size": 36, "fill": "#ffffff", "stroke": "#1a1a1a", "strokeWidth": 2}, "encoding": {"y": {"field": "q1", "type": "quantitative", "title": "API/ms"}, "y2": {"field": "q3"}}},
            {"data": {"name": "bl_s"}, "mark": {"type": "tick", "size": 36, "thickness": 2, "color": "#1a1a1a"}, "encoding": {"y": {"field": "med", "type": "quantitative", "title": "API/ms"}}},
            {"data": {"name": "bl_s"}, "mark": {"type": "tick", "size": 18, "thickness": 2, "color": "#1a1a1a"}, "encoding": {"y": {"field": "lo", "type": "quantitative", "title": "API/ms"}}},
            {"data": {"name": "bl_s"}, "mark": {"type": "tick", "size": 18, "thickness": 2, "color": "#1a1a1a"}, "encoding": {"y": {"field": "hi", "type": "quantitative", "title": "API/ms"}}},
            {"data": {"name": "bl_o"}, "mark": {"type": "point", "filled": true, "size": 6, "color": "#4d4d4d", "opacity": 0.9}, "encoding": {"y": {"field": "v", "type": "quantitative", "title": "API/ms"}}}
          ]
        },
        {
          "width": 212, "height": 203,
          "title": {"text": "Vmax upstroke", "offset": 22},
          "encoding": {"x": {"field": "g", "type": "nominal", "title": null, "scale": {"type": "band", "domain": ["Neg. Ctrl", "miR-25", "siIP3R1", "siIP3R2"], "paddingInner": 0, "paddingOuter": 0}, "axis": {"labelFontStyle": {"condition": {"test": "datum.value == 'Neg. Ctrl'", "value": "normal"}, "value": "italic"}}}},
          "layer": [
            {"data": {"name": "br_s"}, "mark": {"type": "rule", "strokeWidth": 2, "color": "#1a1a1a"}, "encoding": {"y": {"field": "lo", "type": "quantitative", "title": "API/ms", "scale": {"domain": [0, 0.025], "range": [203, 11], "nice": false, "zero": false}, "axis": {"values": [0, 0.005, 0.01, 0.015, 0.02, 0.025], "tickCount": 20, "format": ".3f", "titleX": -70, "titleY": 100, "labelOverlap": false}}, "y2": {"field": "hi"}}},
            {"data": {"name": "br_s"}, "mark": {"type": "bar", "size": 36, "fill": "#ffffff", "stroke": "#1a1a1a", "strokeWidth": 2}, "encoding": {"y": {"field": "q1", "type": "quantitative", "title": "API/ms"}, "y2": {"field": "q3"}}},
            {"data": {"name": "br_s"}, "mark": {"type": "tick", "size": 36, "thickness": 2, "color": "#1a1a1a"}, "encoding": {"y": {"field": "med", "type": "quantitative", "title": "API/ms"}}},
            {"data": {"name": "br_s"}, "mark": {"type": "tick", "size": 18, "thickness": 2, "color": "#1a1a1a"}, "encoding": {"y": {"field": "lo", "type": "quantitative", "title": "API/ms"}}},
            {"data": {"name": "br_s"}, "mark": {"type": "tick", "size": 18, "thickness": 2, "color": "#1a1a1a"}, "encoding": {"y": {"field": "hi", "type": "quantitative", "title": "API/ms"}}},
            {"data": {"name": "br_o"}, "mark": {"type": "point", "filled": true, "size": 6, "color": "#4d4d4d", "opacity": 0.9}, "encoding": {"y": {"field": "v", "type": "quantitative", "title": "API/ms"}}}
          ]
        }
      ],
      "spacing": 64
    }
  ],
  "spacing": 72
}
